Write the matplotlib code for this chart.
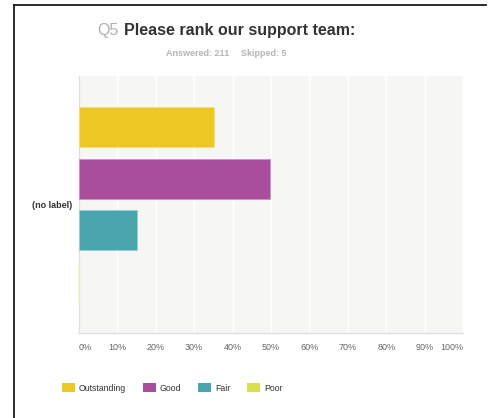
import matplotlib
matplotlib.use("Agg")
import matplotlib.pyplot as plt
from matplotlib.patches import Patch
from matplotlib.lines import Line2D

plt.rcParams["font.family"] = ["Liberation Sans", "DejaVu Sans"]

# survey responses (percent of respondents)
answers = ["Outstanding", "Good", "Fair", "Poor"]
shares = [35.1, 49.8, 15.2, 0.0]
colors = ["#eec822", "#a94e9c", "#49a6ac", "#d9e04c"]
edge_colors = ["#f5de7e", "#cc92c3", "#9ccfd2", "#eaee9a"]
x_ticks = [0, 10, 20, 30, 40, 50, 60, 70, 80, 90, 100]
x_ticklabels = [f"{t}%" for t in x_ticks]
row_label = "(no label)"
question_no = "Q5"
question = "Please rank our support team:"
answered, skipped = 211, 5

W, H = 491, 418
fig = plt.figure(figsize=(W / 100, H / 100), dpi=100)
fig.patch.set_facecolor("white")

ax = fig.add_axes([79 / W, 1 - 333 / H, 384 / W, 257 / H])
ax.set_facecolor("#f6f6f4")

bar_h = 40 / 51.5
pos = list(range(len(answers)))
ax.barh(pos, shares, height=bar_h, color=colors, edgecolor=edge_colors,
        linewidth=0.6, zorder=3)

pad = 0.5 * bar_h + 31 / 51.5
ax.set_ylim(len(answers) - 1 + pad, -pad)
ax.set_xlim(0, 100)

ax.set_xticks(x_ticks)
ax.set_xticklabels(x_ticklabels, fontsize=6.5, color="#666666")
labels = ax.get_xticklabels()
labels[0].set_horizontalalignment("left")
labels[-1].set_horizontalalignment("right")
ax.tick_params(axis="x", length=0, pad=7.5)
ax.grid(axis="x", color="white", linewidth=1.0, zorder=1)

ax.set_yticks([(len(answers) - 1) / 2])
ax.set_yticklabels([row_label], fontsize=6.5, fontweight="bold", color="#333333")
ax.tick_params(axis="y", length=0, pad=4.5)

for side in ["top", "right"]:
    ax.spines[side].set_visible(False)
for side in ["left", "bottom"]:
    ax.spines[side].set_color("#e0e0e0")
    ax.spines[side].set_linewidth(1.0)

# title block
fig.text(97 / W, 1 - 30 / H, question_no, fontsize=11.5, color="#b0b0b0",
         ha="left", va="center")
fig.text(124 / W, 1 - 30 / H, question, fontsize=11.5, fontweight="bold",
         color="#333333", ha="left", va="center")
fig.text(229 / W, 1 - 54 / H, f"Answered: {answered}", fontsize=6.5,
         fontweight="bold", color="#b5b5b5", ha="right", va="center")
fig.text(241 / W, 1 - 54 / H, f"Skipped: {skipped}", fontsize=6.5,
         fontweight="bold", color="#b5b5b5", ha="left", va="center")

# legend
handles = [Patch(facecolor=c, edgecolor="none") for c in colors]
fig.legend(handles, answers, loc="center left",
           bbox_to_anchor=(62 / W, 1 - 388 / H), ncol=4, frameon=False,
           fontsize=6.3, handlelength=1.5, handleheight=1.15,
           handletextpad=0.45, columnspacing=1.9, borderpad=0,
           borderaxespad=0, labelcolor="#333333")

# page frame
fig.add_artist(Line2D([14 / W, 14 / W], [0, 1 - 5 / H], color="#1a1a1a",
                      linewidth=1.3, transform=fig.transFigure))
fig.add_artist(Line2D([14 / W, 486 / W], [1 - 5 / H, 1 - 5 / H],
                      color="#1a1a1a", linewidth=1.3, transform=fig.transFigure))

fig.savefig("out.png", dpi=100)
